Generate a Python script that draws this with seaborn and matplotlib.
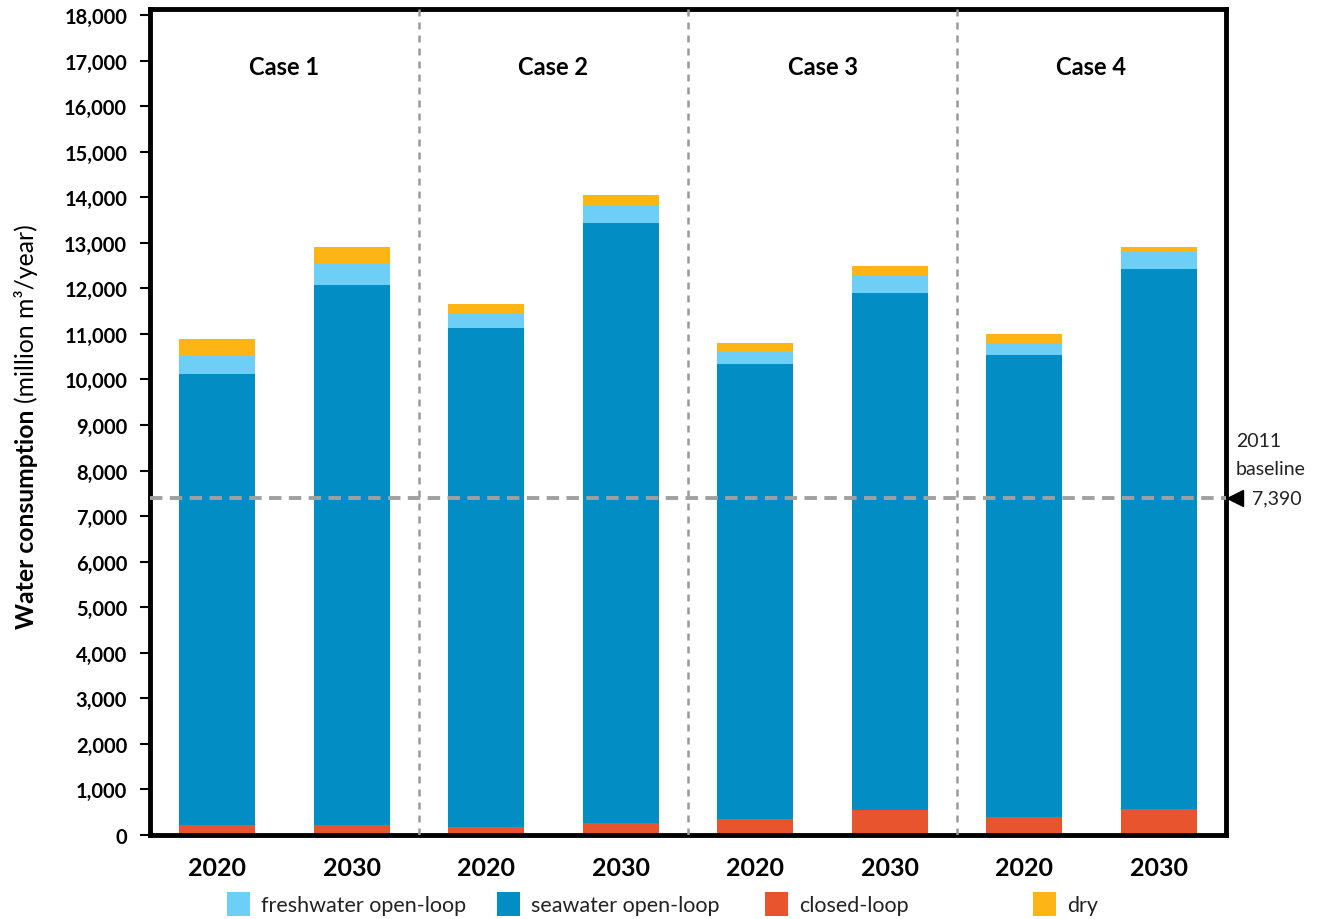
import numpy as np
import pandas as pd
import matplotlib
matplotlib.use("Agg")
import matplotlib.pyplot as plt
import matplotlib.transforms as mtransforms
from matplotlib.patches import Patch
import seaborn as sns

# ---- data (million m3 / year) ----
cases = ["Case 1", "Case 2", "Case 3", "Case 4"]
years = ["2020", "2030"]
closed_loop = [220, 220, 180, 270, 360, 550, 400, 580]
seawater_open_loop = [9910, 11850, 10940, 13160, 9970, 11340, 10130, 11840]
freshwater_open_loop = [380, 460, 320, 390, 270, 380, 260, 380]
dry = [370, 370, 210, 220, 190, 210, 200, 100]
baseline_2011 = 7390
y_ticks = list(range(0, 18001, 1000))

colors = {
    "freshwater open-loop": "#6DCEF6",
    "seawater open-loop": "#028EC5",
    "closed-loop": "#E8542E",
    "dry": "#FDB415",
}

sns.set_theme(style="white")
plt.rcParams["font.family"] = ["Lato", "DejaVu Sans"]

slots = [f"{c} {y}" for c in cases for y in years]
df = pd.DataFrame({
    "slot": slots,
    "closed-loop": closed_loop,
    "seawater open-loop": seawater_open_loop,
    "freshwater open-loop": freshwater_open_loop,
    "dry": dry,
})
# stacked heights: bottom -> top
stack = ["closed-loop", "seawater open-loop", "freshwater open-loop", "dry"]
cum = df[stack].cumsum(axis=1)

fig = plt.figure(figsize=(13.2, 9.2), dpi=100)
ax = fig.add_axes([150 / 1320, 1 - 836 / 920, (1226 - 150) / 1320, (836 - 10) / 920])

# draw the tallest cumulative layer first so lower layers sit on top of it
for name in reversed(stack):
    sns.barplot(x=df["slot"], y=cum[name], color=colors[name], saturation=1,
                width=0.565, linewidth=0, errorbar=None, ax=ax, zorder=2)

ax.set_xlabel("")
ax.set_ylabel("")
ax.set_xlim(-0.5, len(slots) - 0.5)
ax.set_ylim(0, 18132)
ax.set_yticks(y_ticks)
ax.set_yticklabels([f"{v:,}" for v in y_ticks])
ax.set_xticks(range(len(slots)))
ax.set_xticklabels(years * len(cases))

for lbl in ax.get_yticklabels():
    lbl.set_fontsize(14.5)
    lbl.set_fontweight("bold")
for lbl in ax.get_xticklabels():
    lbl.set_fontsize(18)
    lbl.set_fontweight("bold")

ax.tick_params(axis="y", which="major", left=True, direction="out", length=7.5,
               width=1.5, color="black", pad=9, labelcolor="black")
ax.tick_params(axis="x", which="major", bottom=False, length=0, pad=15,
               labelcolor="black")

for sp in ax.spines.values():
    sp.set_visible(True)
    sp.set_color("black")
    sp.set_linewidth(3.5)

# case separators
for i in range(1, len(cases)):
    ax.axvline(2 * i - 0.5, color="#9a9a9a", lw=1.8, ls=(0, (2.8, 2.4)), zorder=3)

# 2011 baseline
ax.axhline(baseline_2011, color="#a0a0a0", lw=2.8, ls=(0, (3.2, 1.9)), zorder=4)
btrans = mtransforms.blended_transform_factory(ax.transAxes, ax.transData)
ax.plot([1.0085], [baseline_2011], marker="<", color="black", markersize=11,
        ls="none", transform=btrans, clip_on=False, zorder=5)
ax.text(1.024, baseline_2011, f"{baseline_2011:,}", transform=btrans,
        ha="left", va="center", fontsize=14, color="#222222")
ax.annotate("baseline", xy=(1.0093, baseline_2011), xycoords=btrans,
            xytext=(0, 21.5), textcoords="offset points",
            ha="left", va="center", fontsize=14, color="#222222")
ax.annotate("2011", xy=(1.0093, baseline_2011), xycoords=btrans,
            xytext=(0, 41.5), textcoords="offset points",
            ha="left", va="center", fontsize=14, color="#222222")

# case titles
for i, case in enumerate(cases):
    ax.text(2 * i + 0.5, 16860, case, ha="center", va="center",
            fontsize=17, fontweight="bold", color="black")

# y-axis title: bold part + regular part, baseline aligned
renderer = fig.canvas.get_renderer()
fs_lab = 17.8
x_base = 34 / 1320
t1 = fig.text(x_base, 0.5, "Water consumption", rotation=90,
              rotation_mode="anchor", ha="left", va="baseline",
              fontsize=fs_lab, fontweight="bold", color="black")
t2 = fig.text(x_base, 0.5, "(million m³/year)", rotation=90,
              rotation_mode="anchor", ha="left", va="baseline",
              fontsize=fs_lab, color="black")
h1 = t1.get_window_extent(renderer).height
h2 = t2.get_window_extent(renderer).height
gap = 0.28 * fs_lab * 100 / 72
total = h1 + gap + h2
center_px = 920 - (225 + 628) / 2
start_px = center_px - total / 2
t1.set_y(start_px / 920)
t2.set_y((start_px + h1 + gap) / 920)

# legend: four evenly spaced entries
legend_x = [227, 497, 765, 1033]
for name, xp in zip(["freshwater open-loop", "seawater open-loop", "closed-loop", "dry"], legend_x):
    lg = fig.legend(handles=[Patch(facecolor=colors[name], edgecolor="none", label=name)],
                    loc="center left", bbox_to_anchor=(xp / 1320, 15 / 920),
                    frameon=False, borderpad=0, borderaxespad=0,
                    handlelength=1.07, handleheight=1.27, handletextpad=0.52,
                    fontsize=15.5)
    for t in lg.get_texts():
        t.set_color("#222222")

fig.savefig("out.png", dpi=100, facecolor="white")
